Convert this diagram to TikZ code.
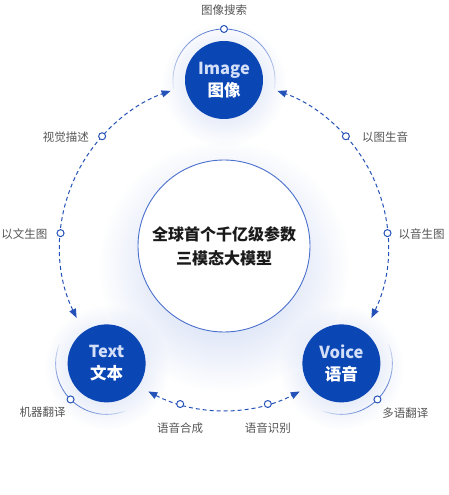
\documentclass[tikz,border=0pt]{standalone}
\usepackage{fontspec}
\newfontfamily\cjk{Noto Sans CJK SC}
\usetikzlibrary{arrows.meta,fadings}
\definecolor{mainblue}{HTML}{0B46B5}
\definecolor{lineblue}{HTML}{2452B8}
\definecolor{ringblue}{HTML}{4A70CC}
\definecolor{labelgray}{HTML}{555555}
\definecolor{glowblue}{HTML}{A9BDEB}
\definecolor{imgtext}{HTML}{D3DFF8}
\definecolor{coretext}{HTML}{1A1A1A}
\tikzfading[name=glowfade, inner color=transparent!0, outer color=transparent!100]
\begin{document}
\begin{tikzpicture}[x=1pt,y=1pt,
  hub/.style={circle, fill=mainblue, minimum size=78pt, inner sep=0pt, align=center,
    font=\cjk\bfseries\fontsize{16.5}{22}\selectfont, text=white},
  core/.style={circle, draw=ringblue, line width=0.9pt, fill=white, minimum size=172pt,
    inner sep=0pt, align=center, font=\cjk\bfseries\fontsize{16}{24}\selectfont, text=coretext},
  marker/.style={circle, draw=lineblue, fill=white, line width=1pt, minimum size=7pt, inner sep=0pt},
  lbl/.style={font=\cjk\fontsize{11.5}{14}\selectfont, text=labelgray, inner sep=0pt},
  flow/.style={draw=lineblue, line width=1pt, dash pattern=on 4pt off 3pt,
    {Triangle[length=9pt,width=7pt]}-{Triangle[length=9pt,width=7pt]}},
  glow/.style={fill=glowblue, path fading=glowfade}
]
\useasboundingbox[fill=white] (0,0) rectangle (448,495);

\coordinate (C) at (224,249);
\path (C) ++(90:166) coordinate (I);
\path (C) ++(225:166) coordinate (T);
\path (C) ++(-45:166) coordinate (V);

% glows
\fill[glow, fill opacity=0.75] ([yshift=-20pt]C) circle (125);
\fill[glow, fill opacity=0.6] ([yshift=-4pt]I) circle (62);
\fill[glow, fill opacity=0.6] ([yshift=-4pt]T) circle (62);
\fill[glow, fill opacity=0.6] ([yshift=-4pt]V) circle (62);

% fading rings
\foreach \hc/\hm/\hs in {I/90/100, T/225/67, V/-45/67} {
  \foreach \k in {0,...,39} {
    \pgfmathsetmacro\sa{\hm-\hs+\k*\hs/20}
    \pgfmathsetmacro\ea{\sa+\hs/20}
    \pgfmathsetmacro\op{(1-abs(\k-19.5)/20)^0.6}
    \draw[ringblue, line width=0.8pt, draw opacity=\op] (\hc) ++(\sa:51) arc[start angle=\sa, end angle=\ea, radius=51];
  }
}

% nodes
\node[core] (core) at (C) {全球首个千亿级参数\\三模态大模型};
\node[hub] (img) at (I) {{\color{imgtext}Image}\\图像};
\node[hub] (txt) at (T) {{\color{imgtext}Text}\\文本};
\node[hub] (voi) at (V) {{\color{imgtext}Voice}\\语音};

% ring markers
\path (I) ++(90:51) node[marker] (imgmk) {};
\path (T) ++(225:51) node[marker] (txtmk) {};
\path (V) ++(-45:51) node[marker] (voimk) {};

% dashed flows
\path (C) ++(206:164) coordinate (ls);
\path (C) ++(-26:164) coordinate (rs);
\path (C) ++(242.5:164) coordinate (bs);
\draw[flow] (ls) arc[start angle=206, end angle=109, radius=164];
\draw[flow] (rs) arc[start angle=-26, end angle=71, radius=164];
\draw[flow] (bs) arc[start angle=242.5, end angle=297.5, radius=164];

% flow markers
\path (C) ++(138:164) node[marker] (m1) {};
\path (C) ++(175.5:164) node[marker] (m2) {};
\path (C) ++(42:164) node[marker] (m3) {};
\path (C) ++(4.5:164) node[marker] (m4) {};
\path (C) ++(254.5:164) node[marker] (m5) {};
\path (C) ++(285.5:164) node[marker] (m6) {};

% labels
\node[lbl] (l0) at ([yshift=19pt]imgmk.center) {图像搜索};
\node[lbl, anchor=east] (l1) at ([xshift=-9pt,yshift=-1pt]m1.west) {视觉描述};
\node[lbl, anchor=east] (l2) at ([xshift=-9pt,yshift=-1pt]m2.west) {以文生图};
\node[lbl, anchor=west] (l3) at ([xshift=12pt,yshift=-1pt]m3.east) {以图生音};
\node[lbl, anchor=west] (l4) at ([xshift=7pt,yshift=-1pt]m4.east) {以音生图};
\node[lbl] (l5) at ([yshift=-24pt]m5.center) {语音合成};
\node[lbl] (l6) at ([yshift=-24pt]m6.center) {语音识别};
\node[lbl] (l7) at ([xshift=-28pt,yshift=-13pt]txtmk.center) {机器翻译};
\node[lbl] (l8) at ([xshift=28pt,yshift=-14pt]voimk.center) {多语翻译};
\end{tikzpicture}
\end{document}
